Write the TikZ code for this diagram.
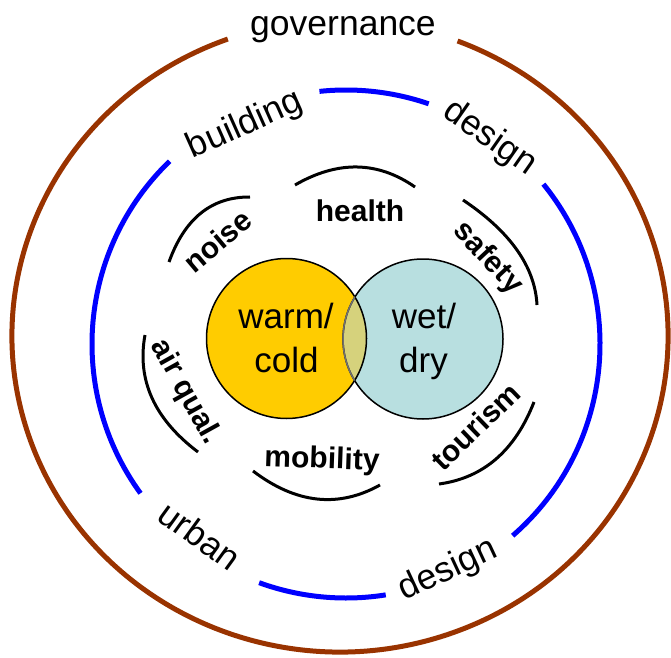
\documentclass[tikz,border=0pt]{standalone}
\usepackage{fontspec}
\setmainfont{Liberation Sans}
\definecolor{brownring}{HTML}{993300}
\definecolor{bluering}{HTML}{0000FF}
\definecolor{warmfill}{HTML}{FFCC00}
\definecolor{wetfill}{HTML}{B8DFE0}
\definecolor{mixfill}{HTML}{D6D27C}
\definecolor{mixedge}{HTML}{707070}
\begin{document}
\begin{tikzpicture}[x=1pt,y=1pt,
  outerlabel/.style={font=\fontsize{35.5}{40}\selectfont, anchor=mid, inner sep=0pt},
  innerlabel/.style={font=\bfseries\fontsize{30}{34}\selectfont, anchor=mid, inner sep=0pt},
  corelabel/.style={font=\fontsize{35}{40}\selectfont, anchor=mid, inner sep=0pt},
  brownline/.style={draw=brownring, line width=5pt},
  blueline/.style={draw=bluering, line width=5pt},
  blackarc/.style={draw=black, line width=3pt},
  coreedge/.style={draw=black, line width=1.5pt},
]
\useasboundingbox (0,0) rectangle (671,657);

% outer brown ring
\draw[brownline] (340,321) ++(110:328pt and 316pt)
  arc[start angle=110, end angle=429, x radius=328pt, y radius=316pt];

% blue ring
\draw[blueline] (346,313) ++(71:254pt) arc[start angle=71, end angle=96, radius=254pt];
\draw[blueline] (346,313) ++(134:254pt) arc[start angle=134, end angle=216, radius=254pt];
\draw[blueline] (346,313) ++(-49:254pt) arc[start angle=-49, end angle=39, radius=254pt];
\draw[blueline] (346,313) ++(250:254pt) arc[start angle=250, end angle=279, radius=254pt];

% core circles
\fill[warmfill] (286.5,318.5) circle[radius=80pt];
\fill[wetfill] (423,318) circle[radius=80pt];
\begin{scope}
  \clip (286.5,318.5) circle[radius=80pt];
  \fill[mixfill] (423,318) circle[radius=80pt];
\end{scope}
\draw[coreedge] (286.5,318.5) circle[radius=80pt];
\draw[coreedge] (423,318) circle[radius=80pt];
\begin{scope}
  \clip (286.5,318.5) circle[radius=80pt];
  \draw[coreedge, draw=mixedge] (423,318) circle[radius=80pt];
\end{scope}

% black arcs
\draw[blackarc] (295,472) .. controls (337.7,496.7) and (377.7,496) .. (415,470);
\draw[blackarc] (169,395) .. controls (184.7,438.7) and (211.7,460.3) .. (250,460);
\draw[blackarc] (463,457) .. controls (510.3,425.3) and (535,390.3) .. (537,352);
\draw[blackarc] (145,322) .. controls (136.7,277) and (154.3,238) .. (198,205);
\draw[blackarc] (253,186) .. controls (296,153.3) and (338.3,148.7) .. (380,172);
\draw[blackarc] (534,255) .. controls (515,206.3) and (483.3,179) .. (439,173);

% outer labels
\node[outerlabel] (gov) at (343,624) {governance};
\node[outerlabel, rotate=24] (bld) at (247.8,525.6) {building};
\node[outerlabel, rotate=-35] (des1) at (486,513.3) {design};
\node[outerlabel, rotate=-36] (urb) at (193.9,113.3) {urban};
\node[outerlabel, rotate=25] (des2) at (451,80.7) {design};

% inner labels
\node[innerlabel] (hea) at (360,438.4) {health};
\node[innerlabel, rotate=40] (noi) at (222.6,409.7) {noise};
\node[innerlabel, rotate=-47] (saf) at (483.9,395.2) {safety};
\node[innerlabel, rotate=-61] (air) at (181.1,262.3) {air qual.};
\node[innerlabel, rotate=-2] (mob) at (321.8,191.4) {mobility};
\node[innerlabel, rotate=44] (tou) at (480.9,225) {tourism};

% core labels
\node[corelabel] (warm) at (286,331.1) {warm/};
\node[corelabel] (cold) at (286.5,287.1) {cold};
\node[corelabel] (wet) at (424,331.1) {wet/};
\node[corelabel] (dry) at (423.5,287.1) {dry};
\end{tikzpicture}
\end{document}
